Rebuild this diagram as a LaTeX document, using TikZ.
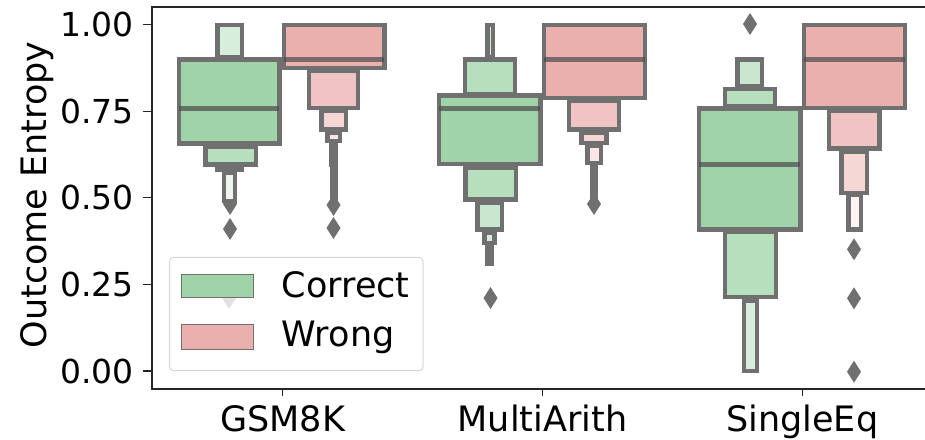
\documentclass[tikz,border=0pt]{standalone}
\usepackage{fontspec}
\setmainfont{DejaVu Sans}

% box outline and level fills
\definecolor{edgegray}{RGB}{112,112,112}
\definecolor{medgray}{RGB}{75,75,75}
\definecolor{gA}{RGB}{160,212,168}
\definecolor{gB}{RGB}{181,223,189}
\definecolor{gC}{RGB}{201,231,206}
\definecolor{gD}{RGB}{216,238,221}
\definecolor{gE}{RGB}{236,246,238}
\definecolor{rA}{RGB}{234,176,174}
\definecolor{rB}{RGB}{240,196,195}
\definecolor{rC}{RGB}{245,215,214}
\definecolor{rD}{RGB}{249,230,229}
\definecolor{rE}{RGB}{252,243,242}
\definecolor{legedge}{RGB}{214,214,214}

\tikzset{
  lvb/.style={draw=edgegray, line width=4.5pt, line join=miter},
  med/.style={draw=medgray, draw opacity=0.7, line width=4.5pt},
  fly/.style={fill=edgegray},
  spine/.style={draw=black!85, line width=1.2pt},
  tickmark/.style={draw=black!85, line width=1.2pt},
  ticklab/.style={inner sep=0pt, font=\fontsize{33}{40}\selectfont},
  axlab/.style={inner sep=0pt, font=\fontsize{35}{42}\selectfont},
  legpatch/.style={draw=edgegray, line width=0.9pt},
}

% letter-value box given by its outer edges (left, top, right, bottom)
\newcommand{\lvbox}[5]{\draw[lvb, fill=#5] ({#1+2.25},{#2+2.25}) rectangle ({#3-2.25},{#4-2.25});}
% median line across a box
\newcommand{\lvmed}[3]{\draw[med] ({#1+2.25},#3) -- ({#2-2.25},#3);}
% outlier diamond
\newcommand{\flier}[2]{\fill[fly] (#1,{#2-11}) -- ({#1+7},#2) -- (#1,{#2+11}) -- ({#1-7},#2) -- cycle;}

\begin{document}
\begin{tikzpicture}[x=1pt,y=-1pt]
\useasboundingbox (0,0) rectangle (925,439);

% ---------- outliers ----------
\flier{230}{204}
\flier{230}{229}
\flier{229}{298}
\flier{333.5}{205}
\flier{333.5}{228}
\flier{490.5}{298}
\flier{594}{204}
\flier{750}{24}
\flier{854}{249.3}
\flier{854}{298.3}
\flier{854}{371.7}

% ---------- GSM8K, correct ----------
\lvbox{215}{22.7}{244}{59.3}{gD}
\lvbox{203}{144}{258}{166.5}{gB}
\lvbox{215}{165}{243.5}{172}{gC}
\lvbox{221.7}{170}{237}{203}{gE}
\lvbox{176.7}{57.3}{281.7}{145.7}{gA}
\lvmed{176.7}{281.7}{108.3}

% ---------- GSM8K, wrong ----------
\lvbox{329.5}{166}{338}{201}{rE}
\lvbox{329.3}{141.7}{338.3}{166.7}{rE}
\lvbox{325}{130}{342}{143.3}{rD}
\lvbox{319.3}{108.3}{348.3}{131.5}{rC}
\lvbox{306.7}{68.3}{360}{110}{rB}
\lvbox{281.7}{22.7}{386.7}{70}{rA}
\lvmed{281.7}{386.7}{59.3}

% ---------- MultiArith, correct ----------
\lvbox{485}{22.7}{495}{59.3}{gD}
\lvbox{462.7}{57.3}{517.3}{96.7}{gB}
\lvbox{485}{243.3}{494}{266}{gE}
\lvbox{482.3}{230}{496.7}{245}{gD}
\lvbox{475}{200}{504}{231.7}{gC}
\lvbox{463.3}{165}{518}{201.7}{gB}
\lvbox{436.7}{93.3}{542.7}{166}{gA}
\lvmed{436.7}{542.7}{108.3}

% ---------- MultiArith, wrong ----------
\lvbox{589.5}{165}{598.3}{201.7}{rE}
\lvbox{585}{143.3}{603}{165}{rD}
\lvbox{579.3}{130}{608.8}{145}{rC}
\lvbox{566.7}{98.3}{621}{131.7}{rB}
\lvbox{541.7}{22.7}{647.3}{100}{rA}
\lvmed{541.7}{647.3}{59.3}

% ---------- SingleEq, correct ----------
\lvbox{735}{57.3}{764.3}{88.3}{gC}
\lvbox{722.7}{86.7}{777.3}{108.3}{gB}
\lvbox{741.7}{298.3}{759}{373.3}{gD}
\lvbox{722.7}{229.3}{778.3}{299.3}{gB}
\lvbox{696.7}{106}{802.7}{231.7}{gA}
\lvmed{696.7}{802.7}{164.3}

% ---------- SingleEq, wrong ----------
\lvbox{846}{192.7}{863.3}{231.7}{rE}
\lvbox{839.3}{149}{869.3}{195}{rC}
\lvbox{826.7}{108.3}{881.7}{150.7}{rB}
\lvbox{801.7}{22.7}{907.3}{110}{rA}
\lvmed{801.7}{907.3}{59.3}

% ---------- axes ----------
\coordinate (tl) at (152,7);
\coordinate (bl) at (152,389);
\coordinate (tr) at (925,7);
\coordinate (br) at (925,389);
\draw[spine] (tr) -- (tl) -- (bl) -- (br);

% y ticks and labels
\foreach \v/\lab [count=\i] in {1.00/1.00,0.75/0.75,0.50/0.50,0.25/0.25,0.00/0.00}{
  \pgfmathsetmacro{\yy}{371-346.4*\v}
  \coordinate (yt\i) at (152,\yy);
  \coordinate (ys\i) at (143,\yy);
  \draw[tickmark] (ys\i) -- (yt\i);
  \node[ticklab, anchor=east] (ylab\i) at (134,\yy) {\lab};
}
\node[axlab, rotate=90, anchor=base] (ylabel) at (46,195) {Outcome Entropy};

% x ticks and labels
\foreach \xx/\lab [count=\i] in {282.7/GSM8K,542.5/MultiArith,802.3/SingleEq}{
  \coordinate (xt\i) at (\xx,389);
  \coordinate (xs\i) at (\xx,396);
  \draw[tickmark] (xt\i) -- (xs\i);
  \node[axlab, anchor=base] (xlab\i) at (\xx,431.7) {\lab};
}

% ---------- legend ----------
\draw[draw=legedge, line width=1pt, fill=white, fill opacity=0.8, rounded corners=4pt]
  (169.5,257.3) rectangle (423,370.7);
\draw[legpatch, fill=gA] (181.7,274) rectangle (253.3,297.3);
\draw[legpatch, fill=rA] (181.7,324) rectangle (253.3,349.3);
\node[axlab, anchor=base west] (legc) at (281.7,297.3) {Correct};
\node[axlab, anchor=base west] (legw) at (281.7,346.7) {Wrong};
\end{tikzpicture}
\end{document}
